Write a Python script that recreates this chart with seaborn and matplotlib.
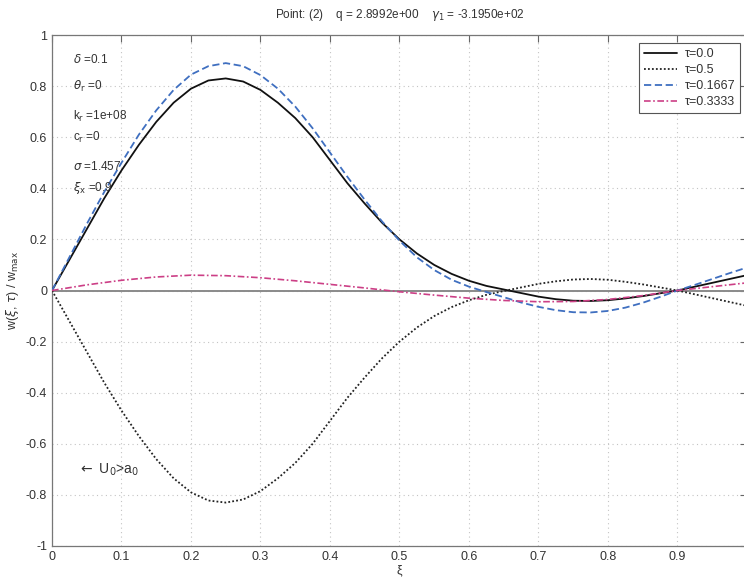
import numpy as np
import pandas as pd
import matplotlib
matplotlib.use("Agg")
import matplotlib.pyplot as plt
import seaborn as sns

# ---- data ----
xi = [0.0, 0.025, 0.05, 0.075, 0.1, 0.125, 0.15, 0.175, 0.2, 0.225, 0.25, 0.275,
      0.3, 0.325, 0.35, 0.375, 0.4, 0.425, 0.45, 0.475, 0.5, 0.525, 0.55, 0.575,
      0.6, 0.625, 0.65, 0.675, 0.7, 0.725, 0.75, 0.775, 0.8, 0.825, 0.85, 0.875,
      0.9, 0.925, 0.95, 0.975, 1.0]
w_tau_00 = [0, .12, .24, .36, .47, .57, .66, .735, .79, .822, .83, .818, .785, .735, .675,
            .6, .51, .42, .34, .265, .2, .145, .1, .065, .038, .018, .004, -.01, -.024,
            -.034, -.04, -.041, -.038, -.031, -.022, -.011, 0.0, .015, .03, .045, .06]
w_tau_05 = [0, -.12, -.24, -.36, -.47, -.57, -.66, -.735, -.79, -.822, -.83, -.818, -.785,
            -.735, -.675, -.6, -.51, -.42, -.34, -.265, -.2, -.145, -.1, -.065, -.038,
            -.017, -.002, .012, .026, .036, .043, .045, .042, .034, .024, .012, 0.0,
            -.015, -.03, -.045, -.06]
w_tau_1667 = [0, .13, .26, .385, .5, .61, .705, .785, .845, .878, .89, .878, .843, .79,
              .72, .635, .54, .445, .355, .27, .195, .13, .08, .042, .015, -.006, -.026,
              -.047, -.064, -.077, -.085, -.086, -.08, -.067, -.048, -.025, 0.0, .022,
              .045, .068, .09]
xi_m = [0.0, 0.05, 0.1, 0.15, 0.2, 0.25, 0.3, 0.35, 0.4, 0.45, 0.5, 0.55, 0.6, 0.65,
        0.7, 0.75, 0.8, 0.85, 0.9, 0.95, 1.0]
w_tau_3333 = [0, .022, .04, .053, .06, .058, .05, .038, .024, .01, -.005, -.018, -.03,
              -.039, -.044, -.043, -.035, -.02, 0.0, .015, .03]

labels = ["τ=0.0", "τ=0.5", "τ=0.1667", "τ=0.3333"]
xticks = [0, 0.1, 0.2, 0.3, 0.4, 0.5, 0.6, 0.7, 0.8, 0.9]
yticks = [-1, -0.8, -0.6, -0.4, -0.2, 0, 0.2, 0.4, 0.6, 0.8, 1]
ytick_labels = ["-1", "-0.8", "-0.6", "-0.4", "-0.2", "0", "0.2", "0.4", "0.6", "0.8", "1"]
xtick_labels = ["0", "0.1", "0.2", "0.3", "0.4", "0.5", "0.6", "0.7", "0.8", "0.9"]

sns.set_style("white")
plt.rcParams["font.family"] = ["Liberation Sans", "DejaVu Sans"]
plt.rcParams["mathtext.fontset"] = "dejavusans"

fig = plt.figure(figsize=(7.44, 5.78), dpi=100)
ax = fig.add_axes([52/744, 1 - 546/578, 695/744, (546 - 35)/578])

txtc = "#333333"
ax.axhline(0, color="#8a8a8a", lw=1.4, zorder=1)

sns.lineplot(x=xi, y=w_tau_00, ax=ax, color="#111111", lw=1.3, label=labels[0], zorder=3)
sns.lineplot(x=xi, y=w_tau_05, ax=ax, color="#222222", lw=1.3, linestyle=(0, (1, 1.2)),
             label=labels[1], zorder=3)
sns.lineplot(x=xi, y=w_tau_1667, ax=ax, color="#3f6fc0", lw=1.3, linestyle=(0, (4, 2)),
             label=labels[2], zorder=3)
sns.lineplot(x=xi_m, y=w_tau_3333, ax=ax, color="#cc3f86", lw=1.2,
             linestyle=(0, (4, 1.5, 1, 1.5)), label=labels[3], zorder=3)

ax.set_xlim(0, 1)
ax.set_ylim(-1, 1)
ax.set_xticks(xticks)
ax.set_xticklabels(xtick_labels)
ax.set_yticks(yticks)
ax.set_yticklabels(ytick_labels)
ax.grid(True, linestyle=(0, (1, 3)), color="#c4c4c4", lw=0.8)
ax.tick_params(direction="in", length=5, width=0.8, colors="#666666", labelcolor=txtc,
               labelsize=9, top=True, right=True)
for s in ax.spines.values():
    s.set_color("#777777")
    s.set_linewidth(0.9)

ax.set_xlabel("ξ", fontsize=9, color=txtc, labelpad=1)
ax.set_ylabel(r"w($\xi$, $\tau$) / w$_{\rm max}$", fontsize=9, color=txtc)
ax.yaxis.set_label_coords(-31 / 695, 0.5)
ax.set_title(r"Point: (2)    q = 2.8992e+00    $\gamma_{\rm 1}$ = -3.1950e+02",
             fontsize=8.5, color=txtc, pad=12)

notes = [(0.905, r"$\delta$ =0.1"), (0.8, r"$\theta_{\rm r}$ =0"),
         (0.68, r"k$_{\rm r}$ =1e+08"), (0.6, r"c$_{\rm r}$ =0"),
         (0.485, r"$\sigma$ =1.457"), (0.4, r"$\xi_{\rm x}$ =0.9")]
for yv, t in notes:
    ax.text(0.03, yv, t, fontsize=8.5, color=txtc, va="center", ha="left")
ax.text(0.037, -0.70, r"$\leftarrow$ U$_{\rm 0}$>a$_{\rm 0}$", fontsize=10, color=txtc,
        va="center", ha="left")

leg = ax.legend(loc="upper right", bbox_to_anchor=(740/744, 1 - 43/578),
                bbox_transform=fig.transFigure, fontsize=9, frameon=True,
                fancybox=False, framealpha=1, edgecolor="#555555", handlelength=2.6,
                borderpad=0.4, labelspacing=0.33, handletextpad=0.6, borderaxespad=0)
leg.get_frame().set_linewidth(0.8)
for t in leg.get_texts():
    t.set_color(txtc)

fig.savefig("out.png", dpi=100)
